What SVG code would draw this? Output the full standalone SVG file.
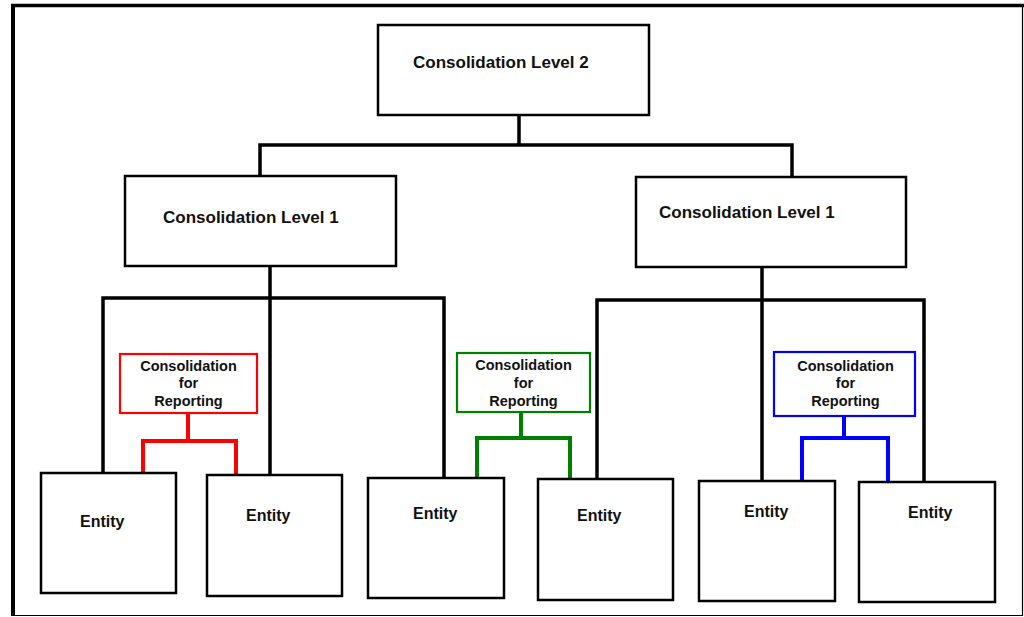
<svg xmlns="http://www.w3.org/2000/svg" width="1024" height="617" viewBox="0 0 1024 617">
  <style>
    .box { fill: #ffffff; stroke: #000000; stroke-width: 2.5; }
    .rep { fill: #ffffff; stroke-width: 2.2; }
    .lbl { font-family: "Liberation Sans", Arial, sans-serif; font-weight: bold; fill: #111111; }
    .big { font-size: 17px; }
    .ent { font-size: 16px; }
    .sm { font-size: 14.5px; text-anchor: middle; }
    .wire { fill: none; stroke: #000000; stroke-width: 3.5; stroke-linejoin: miter; stroke-linecap: butt; }
    .wire-red { fill: none; stroke: #ff0000; stroke-width: 4; }
    .wire-green { fill: none; stroke: #008000; stroke-width: 4; }
    .wire-blue { fill: none; stroke: #0000ff; stroke-width: 4; }
  </style>

  <!-- page background and frame (heavy top/left edges, light right/bottom) -->
  <rect x="0" y="0" width="1024" height="617" fill="#ffffff"/>
  <line x1="1022.5" y1="4" x2="1022.5" y2="615.5" stroke="#000" stroke-width="1.2"/>
  <line x1="11" y1="615.5" x2="1023" y2="615.5" stroke="#000" stroke-width="1.2"/>
  <line x1="11" y1="5.5" x2="1024" y2="5.5" stroke="#000" stroke-width="3.5"/>
  <line x1="13" y1="4" x2="13" y2="616" stroke="#000" stroke-width="4"/>

  <!-- connectors -->
  <g id="connectors">
    <!-- level 2 to level 1 -->
    <path class="wire" d="M519 115 V145 M260 177 V145 H792 V177"/>
    <!-- left level 1 to entities -->
    <path class="wire" d="M270 266 V298 M103 473 V298 H444 V478 M270 298 V475"/>
    <!-- right level 1 to entities -->
    <path class="wire" d="M762 267 V300 M597 479 V300 H924 V482 M762 300 V481"/>
    <!-- reporting groups -->
    <path class="wire-red" d="M188 413 V441 M143 473 V441 H236 V475"/>
    <path class="wire-green" d="M521 412 V438 M477 478 V438 H570 V479"/>
    <path class="wire-blue" d="M844 416 V438 M802 481 V438 H888 V482"/>
  </g>

  <g id="level2">
    <rect class="box" x="378" y="25" width="271" height="90"/>
    <text class="lbl big" x="413" y="68">Consolidation Level 2</text>
  </g>

  <g id="level1-left">
    <rect class="box" x="125" y="176" width="271" height="90"/>
    <text class="lbl big" x="163" y="223">Consolidation Level 1</text>
  </g>

  <g id="level1-right">
    <rect class="box" x="636" y="177" width="270" height="90"/>
    <text class="lbl big" x="659" y="218">Consolidation Level 1</text>
  </g>

  <g id="reporting-red">
    <rect class="rep" x="120" y="354" width="137" height="59" stroke="#ff0000"/>
    <text class="lbl sm" x="188.5" y="371">Consolidation</text>
    <text class="lbl sm" x="188.5" y="388">for</text>
    <text class="lbl sm" x="188.5" y="406">Reporting</text>
  </g>

  <g id="reporting-green">
    <rect class="rep" x="457" y="353" width="133" height="59" stroke="#008000"/>
    <text class="lbl sm" x="523.5" y="370">Consolidation</text>
    <text class="lbl sm" x="523.5" y="388">for</text>
    <text class="lbl sm" x="523.5" y="406">Reporting</text>
  </g>

  <g id="reporting-blue">
    <rect class="rep" x="774" y="352" width="141" height="64" stroke="#0000ff"/>
    <text class="lbl sm" x="845.5" y="371">Consolidation</text>
    <text class="lbl sm" x="845.5" y="388">for</text>
    <text class="lbl sm" x="845.5" y="406">Reporting</text>
  </g>

  <g id="entity-1">
    <rect class="box" x="41" y="473" width="135" height="120"/>
    <text class="lbl ent" x="80" y="527">Entity</text>
  </g>
  <g id="entity-2">
    <rect class="box" x="207" y="475" width="135" height="121"/>
    <text class="lbl ent" x="246" y="521">Entity</text>
  </g>
  <g id="entity-3">
    <rect class="box" x="368" y="478" width="136" height="120"/>
    <text class="lbl ent" x="413" y="519">Entity</text>
  </g>
  <g id="entity-4">
    <rect class="box" x="538" y="479" width="135" height="121"/>
    <text class="lbl ent" x="577" y="521">Entity</text>
  </g>
  <g id="entity-5">
    <rect class="box" x="699" y="481" width="136" height="120"/>
    <text class="lbl ent" x="744" y="517">Entity</text>
  </g>
  <g id="entity-6">
    <rect class="box" x="859" y="482" width="136" height="120"/>
    <text class="lbl ent" x="908" y="518">Entity</text>
  </g>
</svg>
